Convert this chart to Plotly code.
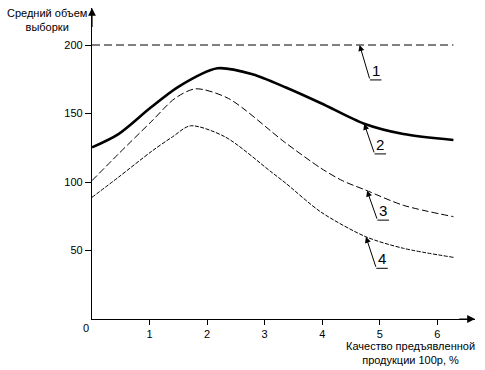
import numpy as np
import plotly.graph_objects as go

# ---- data ----
c1_x = [0, 6.28]
c1_y = [200, 200]

c2_x = [0, 0.46, 1.01, 1.5, 2.18, 2.8, 3.37, 3.98, 4.73, 5.41, 6.28]
c2_y = [125.3, 135, 154, 169.5, 183, 178.5, 169, 157.5, 142.5, 135, 130.7]

c3_x = [0, 0.46, 1.04, 1.44, 1.80, 2.37, 3.35, 3.98, 4.35, 4.76, 5.41, 6.28]
c3_y = [101, 120.5, 144.5, 161, 168, 161, 129, 110, 101, 94, 83, 74.7]

c4_x = [0, 0.46, 1.04, 1.4, 1.71, 2.31, 3.11, 3.37, 3.98, 4.76, 5.41, 6.28]
c4_y = [88.8, 103.5, 122.5, 133, 141, 133, 107.5, 99, 78, 60, 51.6, 45]

curve_labels = ["1", "2", "3", "4"]
x_ticks = [1, 2, 3, 4, 5, 6]
y_ticks = [50, 100, 150, 200]
y_title = "Средний объем<br>выборки"
x_title = "Качество предъявленной<br>продукции 100p, %"

FONT = "Liberation Sans, Arial, sans-serif"

fig = go.Figure()
series = [
    (c1_x, c1_y, dict(color="black", width=1, dash="8px,4px")),
    (c2_x, c2_y, dict(color="black", width=2.6, shape="spline", smoothing=0.8)),
    (c3_x, c3_y, dict(color="black", width=1, dash="7px,3px", shape="spline", smoothing=0.8)),
    (c4_x, c4_y, dict(color="black", width=1, dash="4px,1.5px", shape="spline", smoothing=0.8)),
]
for xs, ys, ln in series:
    fig.add_trace(go.Scatter(x=xs, y=ys, mode="lines", line=ln, showlegend=False, hoverinfo="skip"))

X_MAX = 383 / 57.55
Y_MAX = 311 / 1.37

# leader lines with arrows and underlined numbers
tip_x = [4.65, 4.73, 4.78, 4.76]
tail_dx = 0.18
tail_dy = [-25.5, -22, -21.5, -23]
under_len = 0.2
for i, (xs, ys) in enumerate([(c1_x, c1_y), (c2_x, c2_y), (c3_x, c3_y), (c4_x, c4_y)]):
    tx = tip_x[i]
    ty = float(np.interp(tx, xs, ys))
    bx = tx + tail_dx
    by = ty + tail_dy[i]
    fig.add_annotation(x=tx, y=ty, ax=bx, ay=by, xref="x", yref="y", axref="x", ayref="y",
                       text="", showarrow=True, arrowhead=2, arrowsize=1.2, arrowwidth=1,
                       arrowcolor="black", standoff=0)
    fig.add_shape(type="line", x0=bx, y0=by, x1=bx + under_len, y1=by,
                  line=dict(color="black", width=1), xref="x", yref="y")
    fig.add_annotation(x=bx + under_len / 2, y=by, xref="x", yref="y", text=curve_labels[i],
                       showarrow=False, yanchor="bottom", yshift=-1,
                       font=dict(family=FONT, size=15, color="black"))

# axis arrows
fig.add_annotation(x=X_MAX, y=0, ax=X_MAX - 0.3, ay=0, xref="x", yref="y", axref="x", ayref="y",
                   text="", showarrow=True, arrowhead=2, arrowsize=1.3, arrowwidth=1.2,
                   arrowcolor="black", standoff=0)
fig.add_annotation(x=0, y=Y_MAX, ax=0, ay=Y_MAX - 15, xref="x", yref="y", axref="x", ayref="y",
                   text="", showarrow=True, arrowhead=2, arrowsize=1.3, arrowwidth=1.2,
                   arrowcolor="black", standoff=0)

# origin label
fig.add_annotation(x=0, y=0, xref="x", yref="y", text="0", showarrow=False,
                   xanchor="right", yanchor="top", xshift=-1, yshift=-1,
                   font=dict(family=FONT, size=11, color="black"))

# axis titles (pixel positions converted to paper coordinates below)
fig.add_annotation(x=47, y=20, xref="paper", yref="paper", text=y_title, showarrow=False,
                   font=dict(family=FONT, size=11, color="black"), align="center")
fig.add_annotation(x=410, y=353, xref="paper", yref="paper", text=x_title, showarrow=False,
                   font=dict(family=FONT, size=11, color="black"), align="center")

W, H = 485, 370
L, R, T, B = 92, 10, 8, 51
pw, ph = W - L - R, H - T - B
for ann in fig.layout.annotations:
    if ann.xref == "paper":
        ann.x = (ann.x - L) / pw
        ann.y = 1 - (ann.y - T) / ph
        ann.xanchor = "center"
        ann.yanchor = "middle"

fig.update_layout(
    width=W, height=H,
    margin=dict(l=L, r=R, t=T, b=B),
    paper_bgcolor="white", plot_bgcolor="white",
    font=dict(family=FONT, size=11, color="black"),
    xaxis=dict(range=[0, X_MAX], tickvals=x_ticks, ticks="outside", ticklen=5,
               tickcolor="black", showline=True, linecolor="black", linewidth=1.2,
               showgrid=False, zeroline=False, tickfont=dict(size=11, family=FONT)),
    yaxis=dict(range=[0, Y_MAX], tickvals=y_ticks, ticks="outside", ticklen=6,
               tickcolor="black", showline=True, linecolor="black", linewidth=1.2,
               showgrid=False, zeroline=False, tickfont=dict(size=11, family=FONT)),
)

fig.write_html("out.html", config={"displayModeBar": False},
               post_script="document.body.style.margin='0px';document.body.style.overflow='hidden';")
